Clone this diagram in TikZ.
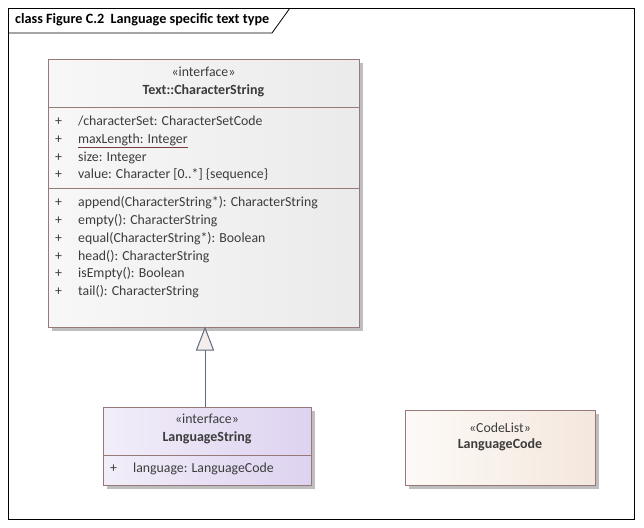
\documentclass[tikz,border=0pt]{standalone}
\usepackage{fontspec}
\setmainfont{Carlito}
\usetikzlibrary{shadows}
\definecolor{txt}{RGB}{60,60,60}
\definecolor{bord}{RGB}{150,122,122}
\definecolor{arr}{RGB}{95,107,128}
\definecolor{shad}{RGB}{190,190,190}
\definecolor{ulc}{RGB}{120,60,60}
\newcommand{\ulred}[1]{\rlap{\textcolor{ulc}{\underline{\phantom{#1}}}}#1}
\tikzset{
  umlbox/.style={draw=bord, line width=1pt, anchor=north west, inner sep=0pt,
    general shadow={fill=shad, shadow xshift=3pt, shadow yshift=-3pt}},
  lbl/.style={font=\fontsize{13.8}{15}\selectfont, text=txt, inner sep=0pt, text height=9pt, text depth=3pt},
  ttl/.style={lbl, font=\fontsize{14}{16}\selectfont\bfseries},
  sep/.style={draw=bord, line width=1pt}
}
\begin{document}
\begin{tikzpicture}[x=1pt,y=1pt]
\useasboundingbox[fill=white] (0,0) rectangle (644,-527);
% frame
\coordinate (f1) at (8,-8);
\coordinate (f2) at (634,-519);
\draw[black, line width=0.8pt] (f1) rectangle (f2);
\coordinate (t1) at (8,-33);
\coordinate (t2) at (272,-33);
\coordinate (t3) at (290,-8);
\draw[black, line width=0.8pt] (t1) -- (t2) -- (t3);
\node[lbl, font=\fontsize{14.2}{16}\selectfont\bfseries, text=black, anchor=west] (title) at (15,-21) {class Figure C.2\ \ Language specific text type};

% CharacterString
\node[umlbox, minimum width=311pt, minimum height=268pt, left color=white!97!black, right color=black!8] (cs) at (48,-59) {};
\draw[sep] (48,-107) -- (359,-107);
\draw[sep] (48,-188) -- (359,-188);
\node[lbl] (cs1) at (203.5,-73) {«interface»};
\node[ttl] (cs2) at (203.5,-91) {Text::CharacterString};
\foreach \y/\t [count=\i] in {121/{/characterSet: CharacterSetCode}, 139/{\ulred{maxLength: Integer}}, 157/{size: Integer}, 174/{value: Character [0..*] \{sequence\}}}{
  \node[lbl, anchor=west] (ap\i) at (55,-\y-1) {+};
  \node[lbl, anchor=west] (a\i) at (78,-\y-1) {\t};
}
\foreach \y/\t [count=\i] in {202/{append(CharacterString*): CharacterString}, 220/{empty(): CharacterString}, 238/{equal(CharacterString*): Boolean}, 256/{head(): CharacterString}, 273/{isEmpty(): Boolean}, 291/{tail(): CharacterString}}{
  \node[lbl, anchor=west] (op\i) at (55,-\y-1) {+};
  \node[lbl, anchor=west] (o\i) at (78,-\y-1) {\t};
}

% LanguageString
\node[umlbox, minimum width=208pt, minimum height=78pt, left color={rgb,255:red,242;green,238;blue,249}, right color={rgb,255:red,221;green,210;blue,240}] (ls) at (103,-407) {};
\draw[sep] (103,-455) -- (311,-455);
\node[lbl] (ls1) at (207,-420) {«interface»};
\node[ttl] (ls2) at (207,-438) {LanguageString};
\node[lbl, anchor=west] (lp1) at (110,-469) {+};
\node[lbl, anchor=west] (l1) at (133,-469) {language: LanguageCode};

% LanguageCode
\node[umlbox, minimum width=190pt, minimum height=75pt, left color={rgb,255:red,253;green,250;blue,247}, right color={rgb,255:red,244;green,231;blue,221}] (lc) at (405,-410) {};
\node[lbl] (lc1) at (500,-429) {«CodeList»};
\node[ttl] (lc2) at (500,-445) {LanguageCode};

% generalization
\draw[arr, line width=1pt] (ls.north -| 205,0) -- (205,-350);
\draw[arr, line width=1pt, fill={rgb,255:red,246;green,238;blue,234}] (205,-328) -- (213.5,-350) -- (196.5,-350) -- cycle;
\end{tikzpicture}
\end{document}
